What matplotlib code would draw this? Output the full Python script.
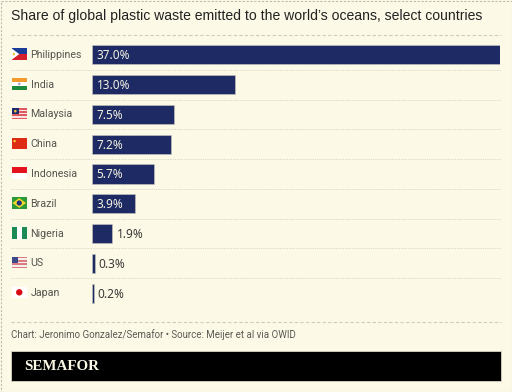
import matplotlib
matplotlib.use("Agg")
import matplotlib.pyplot as plt
from matplotlib.patches import Rectangle, Circle, Polygon

countries = ["Philippines", "India", "Malaysia", "China", "Indonesia", "Brazil", "Nigeria", "US", "Japan"]
values = [37.0, 13.0, 7.5, 7.2, 5.7, 3.9, 1.9, 0.3, 0.2]
title = "Share of global plastic waste emitted to the world\u2019s oceans, select countries"
source = "Chart: Jeronimo Gonzalez/Semafor \u2022 Source: Meijer et al via OWID"
brand = "SEMAFOR"

BG = "#FCF9E6"
NAVY = "#1E2A63"
W, H = 512, 392
fig = plt.figure(figsize=(W / 100, H / 100), dpi=100, facecolor=BG)

# page overlay in pixel coordinates
pg = fig.add_axes([0, 0, 1, 1], zorder=0)
pg.set_xlim(0, W)
pg.set_ylim(H, 0)
pg.axis("off")
pg.add_patch(Rectangle((0.5, 0.5), W - 1, H - 1, fill=False, ec="#BDBDB5", lw=0.8, ls=(0, (2, 1.5))))
pg.plot([11, 501], [35, 35], color="#CFCDBB", lw=0.8, ls=(0, (3, 2)))
pg.plot([11, 501], [322, 322], color="#CFCDBB", lw=0.8, ls=(0, (3, 2)))
pg.text(11, 16, title, fontsize=10.07, family="Liberation Sans", color="#222222", va="center", ha="left")
pg.text(11, 334.5, source, fontsize=7.0, family="Roboto", color="#5A5A55", va="center", ha="left")
pg.add_patch(Rectangle((11, 350.5), 490, 30.5, fc="#000000", ec="#D8D5BE", lw=0.6))
pg.text(24.5, 366, brand, fontsize=10.8, family="Liberation Serif", weight="bold", color=BG, va="center", ha="left")

# chart
top, bottom = 40.0, 308.0
ax = fig.add_axes([91.5 / W, 1 - bottom / H, (500 - 91.5) / W, (bottom - top) / H], zorder=1)
ax.set_facecolor("none")
ax.set_xlim(0, 37)
ax.set_ylim(len(values) - 0.5, -0.5)
ax.axis("off")
ys = list(range(len(values)))
ax.barh(ys, values, height=0.64, color=NAVY, edgecolor="#C9C8C0", linewidth=0.4)
for y, v in zip(ys, values):
    s = f"{v:.1f}%"
    if v >= 3:
        ax.annotate(s, (0, y), xytext=(5, -1), textcoords="offset pixels", color="#F4F2E2",
                    fontsize=8.5, family="Noto Sans", va="center", ha="left")
    else:
        ax.annotate(s, (v, y), xytext=(4, -1), textcoords="offset pixels", color="#3A3A38",
                    fontsize=8.5, family="Noto Sans", va="center", ha="left")

row = (bottom - top) / len(values)
for i, c in enumerate(countries):
    cy = top + row * (i + 0.5)
    pg.text(30.5, cy, c, fontsize=7.7, family="Roboto", color="#55554F", va="center", ha="left")
    if i < len(values) - 1:
        pg.plot([11, 501], [cy + row / 2] * 2, color="#D9D7C6", lw=0.7, ls=(0, (1.2, 1.2)))

# flags
def flag(i):
    x0, x1 = 11.5, 27
    cy = top + row * (i + 0.5) - 0.8
    y0, y1 = cy - 5.8, cy + 5.8
    w, h = x1 - x0, y1 - y0
    def r(fx0, fy0, fx1, fy1, col):
        pg.add_patch(Rectangle((x0 + fx0 * w, y0 + fy0 * h), (fx1 - fx0) * w, (fy1 - fy0) * h, fc=col, ec="none"))
    name = countries[i]
    if name == "Philippines":
        r(0, 0, 1, .5, "#1B3C96"); r(0, .5, 1, 1, "#D5202C")
        pg.add_patch(Polygon([(x0, y0), (x0 + .5 * w, cy), (x0, y1)], fc="#FFFFFF", ec="none"))
        pg.add_patch(Circle((x0 + .15 * w, cy), 1.2, fc="#F2C12E", ec="none"))
    elif name == "India":
        r(0, 0, 1, .34, "#F39A2C"); r(0, .34, 1, .67, "#FFFFFF"); r(0, .67, 1, 1, "#1E8A3C")
        pg.add_patch(Circle((x0 + .5 * w, cy), 1.3, fc="#9FA6CF", ec="none"))
    elif name == "Malaysia":
        for k in range(7):
            r(0, k / 7, 1, (k + 1) / 7, "#DE5A60" if k % 2 == 0 else "#F7E4E0")
        r(0, 0, .5, 4 / 7, "#1C2A6E")
        pg.add_patch(Circle((x0 + .25 * w, y0 + .29 * h), 1.3, fc="#F2C12E", ec="none"))
    elif name == "China":
        r(0, 0, 1, 1, "#DE2B14")
        pg.add_patch(Circle((x0 + .2 * w, y0 + .3 * h), 1.2, fc="#F5D130", ec="none"))
    elif name == "Indonesia":
        r(0, 0, 1, .5, "#E3121C"); r(0, .5, 1, 1, "#FFFFFF")
    elif name == "Brazil":
        r(0, 0, 1, 1, "#2C9A36")
        pg.add_patch(Polygon([(x0 + .06 * w, cy), (x0 + .5 * w, y0 + .08 * h), (x0 + .94 * w, cy), (x0 + .5 * w, y1 - .08 * h)], fc="#F4D92A", ec="none"))
        pg.add_patch(Circle((x0 + .5 * w, cy), 2.6, fc="#20347E", ec="none"))
    elif name == "Nigeria":
        r(0, 0, 1 / 3, 1, "#1C8A54"); r(1 / 3, 0, 2 / 3, 1, "#FFFFFF"); r(2 / 3, 0, 1, 1, "#1C8A54")
    elif name == "US":
        for k in range(7):
            r(0, k / 7, 1, (k + 1) / 7, "#DB7A80" if k % 2 == 0 else "#F5F0EE")
        r(0, 0, .45, 4 / 7, "#3B4A86")
    elif name == "Japan":
        r(0, 0, 1, 1, "#FFFFFF")
        pg.add_patch(Circle((x0 + .5 * w, cy), 3.2, fc="#DA0A14", ec="none"))

for i in range(len(countries)):
    flag(i)

fig.savefig("out.png", dpi=100, facecolor=BG)
